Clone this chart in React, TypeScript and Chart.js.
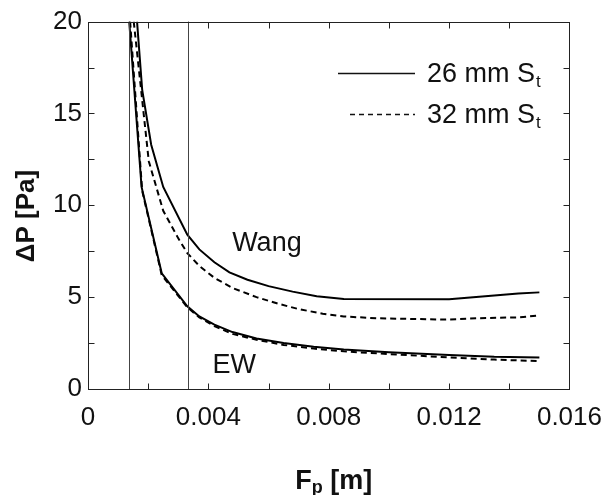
import React, { useEffect, useRef } from "react";
import { Chart, registerables } from "chart.js";

Chart.register(...registerables);

const FONT = "'Liberation Sans', Arial, Helvetica, sans-serif";

// ---- Data (Fp in m, ΔP in Pa) ----
const wang26X = [0.00163, 0.0018, 0.0021, 0.0025, 0.0033, 0.0037, 0.0042, 0.0047, 0.0053, 0.006, 0.0068, 0.0076, 0.0085, 0.012, 0.0128, 0.0136, 0.0143, 0.015];
const wang26Y = [20, 16.3, 13.3, 11.0, 8.4, 7.6, 6.9, 6.35, 5.95, 5.6, 5.3, 5.05, 4.9, 4.88, 5.0, 5.1, 5.2, 5.26];

const wang32X = [0.00152, 0.00202, 0.0025, 0.003, 0.0033, 0.0037, 0.0042, 0.0048, 0.0056, 0.0063, 0.007, 0.0078, 0.0085, 0.0096, 0.0119, 0.0129, 0.0143, 0.015];
const wang32Y = [20, 12.4, 9.7, 8.2, 7.4, 6.7, 6.05, 5.5, 5.0, 4.65, 4.35, 4.1, 3.95, 3.85, 3.78, 3.85, 3.9, 4.0];

const ew26X = [0.00137, 0.00178, 0.00245, 0.0033, 0.0037, 0.0042, 0.0048, 0.0056, 0.0065, 0.0075, 0.0085, 0.01, 0.012, 0.0135, 0.015];
const ew26Y = [20, 11.0, 6.3, 4.5, 3.95, 3.5, 3.1, 2.75, 2.5, 2.3, 2.15, 2.0, 1.85, 1.75, 1.72];

const ew32X = [0.0014, 0.0018, 0.00245, 0.0033, 0.0037, 0.0042, 0.0048, 0.0056, 0.0065, 0.0075, 0.0085, 0.01, 0.012, 0.0135, 0.015];
const ew32Y = [20, 10.8, 6.2, 4.45, 3.9, 3.42, 3.0, 2.68, 2.4, 2.2, 2.05, 1.9, 1.72, 1.6, 1.52];

const verticalLinesX = [0.00137, 0.00332];

const xTickLabels = ["0", "0.004", "0.008", "0.012", "0.016"];
const yTickLabels = ["0", "5", "10", "15", "20"];
const xMinorStep = 0.002;
const yMinorStep = 2.5;

const legendEntries = [
  { text: "26 mm S", sub: "t", dashed: false },
  { text: "32 mm S", sub: "t", dashed: true },
];

const annotations = [
  { text: "Wang", x: 0.00479, y: 7.53 },
  { text: "EW", x: 0.00414, y: 0.87 },
];

const xTitle = { main: "F", sub: "p", rest: " [m]" };
const yTitle = "ΔP [Pa]";

const DASH = [6, 4];

function pts(xs: number[], ys: number[]) {
  return xs.map((x, i) => ({ x, y: ys[i] }));
}

const overlayPlugin = {
  id: "overlay",
  afterDatasetsDraw(chart: any) {
    const ctx = chart.ctx as CanvasRenderingContext2D;
    const { left, right, top, bottom } = chart.chartArea;
    const xs = chart.scales.x;
    const ys = chart.scales.y;
    ctx.save();

    // vertical reference lines
    ctx.strokeStyle = "#444";
    ctx.lineWidth = 1;
    verticalLinesX.forEach((v) => {
      const px = Math.round(xs.getPixelForValue(v)) + 0.5;
      ctx.beginPath();
      ctx.moveTo(px, top);
      ctx.lineTo(px, bottom);
      ctx.stroke();
    });

    // box
    ctx.strokeStyle = "#222";
    ctx.lineWidth = 1;
    const L = Math.round(left) + 0.5, R = Math.round(right) + 0.5;
    const T = Math.round(top) + 0.5, B = Math.round(bottom) + 0.5;
    ctx.strokeRect(L, T, R - L, B - T);

    // inward ticks
    const tl = 6;
    ctx.beginPath();
    for (let v = xs.min; v <= xs.max + 1e-9; v += xMinorStep) {
      const px = Math.round(xs.getPixelForValue(v)) + 0.5;
      ctx.moveTo(px, B);
      ctx.lineTo(px, B - tl);
      ctx.moveTo(px, T);
      ctx.lineTo(px, T + tl);
    }
    for (let v = ys.min; v <= ys.max + 1e-9; v += yMinorStep) {
      const py = Math.round(ys.getPixelForValue(v)) + 0.5;
      ctx.moveTo(L, py);
      ctx.lineTo(L + tl, py);
      ctx.moveTo(R, py);
      ctx.lineTo(R - tl, py);
    }
    ctx.stroke();

    ctx.fillStyle = "#111";
    ctx.textAlign = "left";
    ctx.textBaseline = "alphabetic";

    // annotations
    ctx.font = `27px ${FONT}`;
    annotations.forEach((a) => {
      ctx.fillText(a.text, xs.getPixelForValue(a.x), ys.getPixelForValue(a.y));
    });

    // legend
    const legX = 427, legY0 = 73, legDy = 41;
    legendEntries.forEach((e, i) => {
      const y = legY0 + i * legDy;
      ctx.strokeStyle = "#111";
      ctx.lineWidth = 1.5;
      ctx.setLineDash(e.dashed ? [5, 4] : []);
      ctx.beginPath();
      ctx.moveTo(e.dashed ? 350 : 338, y + 0.5);
      ctx.lineTo(415, y + 0.5);
      ctx.stroke();
      ctx.setLineDash([]);
      ctx.font = `27px ${FONT}`;
      ctx.fillText(e.text, legX, y + 9);
      const w = ctx.measureText(e.text).width;
      ctx.font = `17px ${FONT}`;
      ctx.fillText(e.sub, legX + w + 1, y + 14);
    });

    // x title
    ctx.font = `bold 27px ${FONT}`;
    const wF = ctx.measureText(xTitle.main).width;
    const wR = ctx.measureText(xTitle.rest).width;
    ctx.font = `bold 18px ${FONT}`;
    const wP = ctx.measureText(xTitle.sub).width;
    const total = wF + wP + wR;
    const cx = (left + right) / 2 + 5;
    let sx = cx - total / 2;
    const by = 489;
    ctx.font = `bold 27px ${FONT}`;
    ctx.fillText(xTitle.main, sx, by);
    sx += wF;
    ctx.font = `bold 18px ${FONT}`;
    ctx.fillText(xTitle.sub, sx, by + 4);
    sx += wP;
    ctx.font = `bold 27px ${FONT}`;
    ctx.fillText(xTitle.rest, sx, by);

    // y title
    ctx.translate(34, 216);
    ctx.rotate(-Math.PI / 2);
    ctx.font = `bold 26px ${FONT}`;
    ctx.textAlign = "center";
    ctx.fillText(yTitle, 0, 0);

    ctx.restore();
  },
};

export default function App() {
  const ref = useRef<HTMLCanvasElement | null>(null);
  useEffect(() => {
    if (!ref.current) return;
    const mk = (label: string, xs: number[], ys: number[], dashed: boolean) => ({
      label,
      data: pts(xs, ys),
      borderColor: "#000",
      borderWidth: 2,
      borderDash: dashed ? DASH : [],
      pointRadius: 0,
      tension: 0,
      fill: false,
    });
    const chart = new Chart(ref.current, {
      type: "line",
      data: {
        datasets: [
          mk("Wang 26 mm", wang26X, wang26Y, false),
          mk("Wang 32 mm", wang32X, wang32Y, true),
          mk("EW 26 mm", ew26X, ew26Y, false),
          mk("EW 32 mm", ew32X, ew32Y, true),
        ],
      },
      options: {
        animation: false,
        responsive: false,
        maintainAspectRatio: false,
        layout: { padding: { top: 20, right: 36, left: 0, bottom: 0 } },
        plugins: { legend: { display: false }, tooltip: { enabled: false } },
        scales: {
          x: {
            type: "linear",
            min: 0,
            max: 0.016,
            afterFit: (s: any) => { s.height = 106; },
            grid: { display: false, drawTicks: false },
            border: { display: false },
            ticks: {
              stepSize: 0.004,
              autoSkip: false,
              maxRotation: 0,
              padding: 13,
              color: "#111",
              font: { family: FONT, size: 26 },
              callback: (_v: any, i: number) => xTickLabels[i],
            },
          },
          y: {
            type: "linear",
            min: 0,
            max: 20,
            afterFit: (s: any) => { s.width = 88; },
            grid: { display: false, drawTicks: false },
            border: { display: false },
            ticks: {
              stepSize: 5,
              padding: 6,
              color: "#111",
              font: { family: FONT, size: 26 },
              callback: (_v: any, i: number) => yTickLabels[i],
            },
          },
        },
      },
      plugins: [overlayPlugin],
    });
    return () => chart.destroy();
  }, []);
  return (
    <div style={{ position: "absolute", left: 0, top: 0, width: 615, height: 495, background: "#fff" }}>
      <canvas ref={ref} width={615} height={495} style={{ display: "block" }} />
    </div>
  );
}
